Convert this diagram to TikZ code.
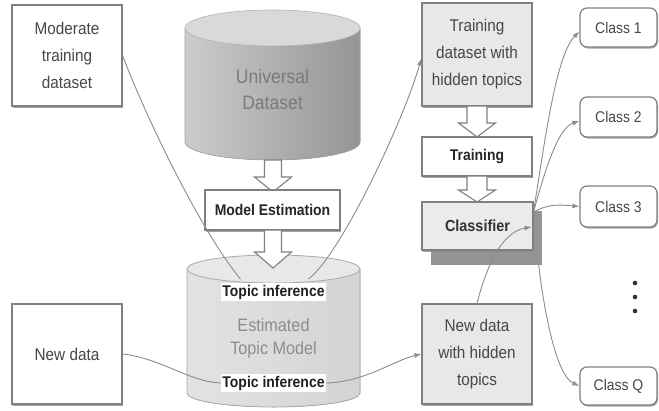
\documentclass[tikz,border=0pt]{standalone}
\usepackage{fontspec}
\setmainfont[FakeStretch=0.9]{Liberation Sans}
\usetikzlibrary{calc,arrows.meta,shadows}
\tikzset{
  box/.style={draw=black!50, line width=1.2pt, fill=white, align=center, text=black!72,
    font=\fontsize{17}{27}\selectfont, inner sep=0pt,
    drop shadow={shadow xshift=1pt, shadow yshift=-1.5pt, fill=black!45, opacity=0.8}},
  graybox/.style={box, fill=black!9},
  bbox/.style={box, font=\bfseries\fontsize{15.5}{18}\selectfont, text=black!85},
  classbox/.style={box, rounded corners=7pt, font=\fontsize{15.5}{18}\selectfont},
  tlabel/.style={fill=white, font=\bfseries\fontsize{15.5}{18}\selectfont, text=black!88, inner sep=1.5pt},
  conn/.style={draw=black!45, line width=0.9pt},
  arr/.style={-{Latex[length=7pt,width=5pt]}},
  blk/.style={draw=black!50, line width=1.1pt, fill=white, line join=miter},
}
\newcommand\blkarrow[5]{% x, ytop, yhead, ytip, half shaft
  \filldraw[blk] (#1-#5,#2) -- (#1-#5,#3) -- (#1-18.5,#3) -- (#1,#4) -- (#1+18.5,#3) -- (#1+#5,#3) -- (#1+#5,#2) -- cycle;}
\begin{document}
\begin{tikzpicture}[x=1pt,y=-1pt]
\fill[white] (0,0) rectangle (659,410);
\useasboundingbox (0,0) rectangle (659,410);

% Universal Dataset cylinder
\fill[left color=black!20, right color=black!42, draw=black!35, line width=0.6pt]
  (185,28) -- (185,142) arc[start angle=180, end angle=0, x radius=87.5, y radius=18] -- (360,28) -- cycle;
\filldraw[fill=black!15, draw=black!30, line width=0.6pt] (272.5,28) ellipse[x radius=87.5, y radius=18];
\node[text=black!52, font=\fontsize{19.5}{26}\selectfont, align=center] (univ) at (272.5,90) {Universal\\Dataset};

% Estimated Topic Model cylinder
\fill[left color=black!11, right color=black!17, draw=black!34, line width=0.8pt]
  (187,269) -- (187,393) arc[start angle=180, end angle=0, x radius=86.5, y radius=14] -- (360,269) -- cycle;
\filldraw[fill=black!9, draw=black!34, line width=0.8pt] (273.5,269) ellipse[x radius=86.5, y radius=14];
\node[text=black!45, font=\fontsize{18}{23}\selectfont, align=center] (est) at (273.5,338.5) {Estimated\\Topic Model};

% block arrows
\blkarrow{273}{160}{177}{192}{8.5}
\node[bbox, minimum width=135pt, minimum height=40pt] (modest) at (272.5,210) {Model Estimation};
\blkarrow{273}{230}{252}{268}{8.5}

\node[tlabel] (tinf1) at (273.5,292) {Topic inference};
\node[tlabel] (tinf2) at (273.5,383) {Topic inference};

% left boxes
\node[box, minimum width=110pt, minimum height=101pt] (moder) at (67,55.5) {Moderate\\training\\dataset};
\node[box, minimum width=110pt, minimum height=100pt] (newd) at (67,354) {New data};

% right column
\node[graybox, minimum width=110pt, minimum height=103pt] (train) at (477,54.5) {Training\\dataset with\\hidden topics};
\blkarrow{477}{106}{123}{137}{10}
\node[bbox, minimum width=110pt, minimum height=39pt] (training) at (477,156.5) {Training};
\blkarrow{477}{176}{190}{202}{10}
\node[graybox, minimum width=110pt, minimum height=100pt] (newh) at (477,354) {New data\\with hidden\\topics};

% classes
\node[classbox, minimum width=77pt, minimum height=39pt] (c1) at (618.5,27.5) {Class 1};
\node[classbox, minimum width=77pt, minimum height=40pt] (c2) at (618.5,117) {Class 2};
\node[classbox, minimum width=77pt, minimum height=41pt] (c3) at (618.5,206.5) {Class 3};
\node[classbox, minimum width=77pt, minimum height=38pt] (cq) at (618.5,386) {Class Q};
\foreach \yy in {283,297,311} \fill[black!80] (635,\yy) circle[radius=2.3];

% classifier with shadow
\coordinate (src) at (533.5,212);
\draw[conn,arr] (src) .. controls (540,300) and (555,375) .. (cq.west);
\fill[black!42] (431,211) rectangle (542,265);
\node[box, fill=black!8, drop shadow={opacity=0}, font=\bfseries\fontsize{16}{18}\selectfont, text=black!80,
  minimum width=111pt, minimum height=48pt] (classif) at (477.5,226) {Classifier};

% connectors
\draw[conn] (moder.east) .. controls (145,115) and (200,230) .. ($(tinf1.north)+(-33,-4)$);
\draw[conn,arr] ($(tinf1.north)+(35,-4)$) .. controls (340,255) and (402,125) .. ($(train.west)+(0,4)$);
\draw[conn] (newd.east) .. controls (160,358) and (190,382) .. (tinf2.west);
\draw[conn,arr] (tinf2.east) .. controls (365,382) and (395,360) .. (newh.west);
\draw[conn,arr] (newh.north) .. controls (485,272) and (500,232) .. ($(classif.east)+(-2,1)$);
\draw[conn,arr] (src) .. controls (545,140) and (556,55) .. ($(c1.west)+(0,4)$);
\draw[conn,arr] (src) .. controls (545,170) and (558,128) .. ($(c2.west)+(0,4)$);
\draw[conn,arr] (src) .. controls (550,203) and (562,205) .. (c3.west);
\end{tikzpicture}
\end{document}
